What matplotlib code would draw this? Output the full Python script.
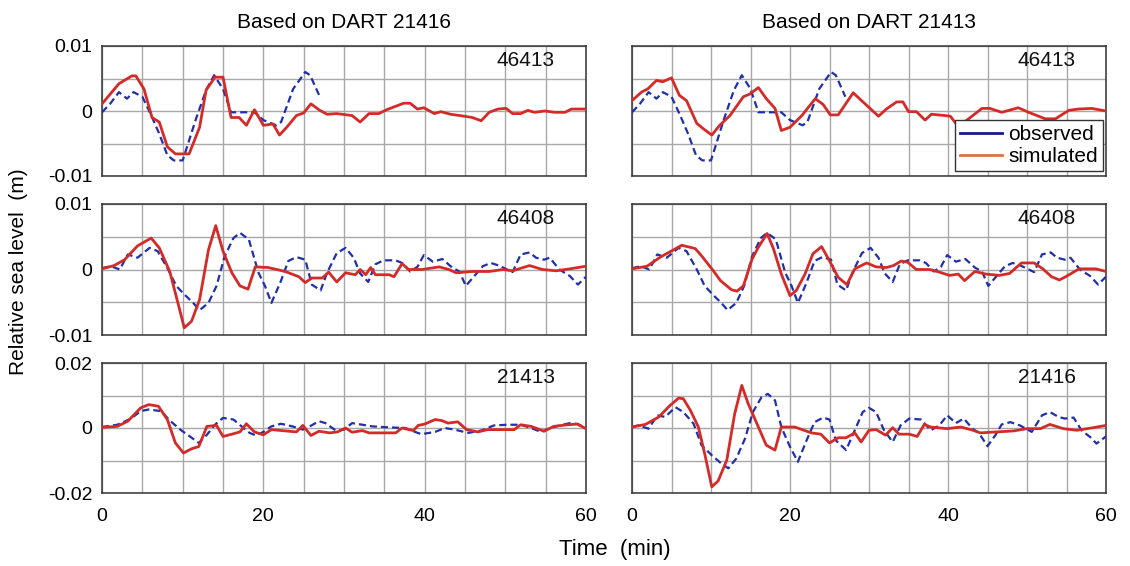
import matplotlib
matplotlib.use("Agg")
import matplotlib.pyplot as plt
from matplotlib.lines import Line2D

plt.rcParams['font.family'] = ['Liberation Sans', 'DejaVu Sans']

# ---------------------------------------------------------------- data (mm -> m below)
# Panel (0,0): station 46413, source from DART 21416
sim_46413_a_t = [0, 2.1, 3.7, 4.2, 5.2, 6.2, 7.1, 8.1, 9.1, 10.8, 12.1, 12.9, 14, 15, 16, 17, 17.9, 18.9,
                 20, 21.2, 22, 22.9, 24.1, 25, 25.9, 27, 27.9, 29.1, 31, 32, 33.1, 34.3, 35.3, 37.4, 38.2,
                 39.1, 39.9, 41.2, 42, 43.2, 44.9, 45.9, 47, 48, 49.1, 50.1, 50.9, 51.9, 52.8, 53.6, 54.9,
                 56.1, 57.4, 58.2, 60]
sim_46413_a_v = [1.1, 4.2, 5.4, 5.4, 3.4, -1.0, -1.7, -5.5, -6.6, -6.6, -2.5, 3.2, 5.2, 5.2, -1.0, -1.0, -2.2, 0.2,
                 -2.2, -2.0, -3.7, -2.5, -0.7, -0.3, 1.1, 0.1, -0.5, -0.4, -0.7, -1.7, -0.4, -0.4, 0.2, 1.2, 1.2,
                 0.3, 0.5, -0.4, -0.1, -0.5, -0.8, -1.0, -1.5, -0.2, 0.3, 0.4, -0.4, -0.4, 0.1, -0.2, 0.0,
                 -0.2, -0.2, 0.3, 0.3]
obs_46413_t = [0, 1, 2.1, 3.1, 3.9, 5, 6, 7.1, 8.1, 8.9, 10, 10.6, 11.6, 12.9, 13.9, 15, 16, 18.9, 20, 21.6,
               22.2, 23.7, 25.2, 25.8, 27]
obs_46413_v = [-0.2, 1.1, 2.9, 1.9, 2.9, 2.2, -0.4, -3.5, -6.8, -7.6, -7.6, -5.3, -1.4, 3.2, 5.5, 3.4, -0.2,
               -0.2, -1.4, -2.2, -1.7, 3.4, 6.0, 5.5, 2.2]

# Panel (0,1): station 46413, source from DART 21413
sim_46413_b_t = [0, 1.2, 2, 3.1, 3.9, 5, 6, 6.9, 8.2, 9, 10.1, 11.1, 12.4, 14.1, 14.9, 16, 17, 18.1, 18.9, 20,
                 21.5, 23.2, 24.2, 25.1, 26.1, 28, 29.5, 31.2, 32.2, 33.5, 34.3, 35, 36, 37.1, 37.9, 39.6,
                 40.3, 41.3, 42.4, 44.3, 45.3, 46.8, 48.9, 50.2, 52.3, 53.6, 55.3, 56.5, 58.2, 60]
sim_46413_b_v = [1.6, 2.9, 3.4, 4.7, 4.5, 5.1, 2.4, 1.6, -1.9, -2.7, -3.7, -2.2, -0.7, 2.2, 2.6, 3.6, 1.9, 0.4,
                 -3.0, -2.5, -0.7, 1.9, 1.0, -0.6, -0.6, 2.8, 1.1, -0.8, 0.3, 1.4, 1.4, -0.1, -0.1, -1.4,
                 -0.5, -0.7, -0.8, -2.4, -1.4, 0.4, 0.4, -0.2, 0.5, -0.2, -1.2, -1.2, 0.1, 0.3, 0.4, 0.0]

# Panel (1,0): station 46408, source from DART 21416
sim_46408_a_t = [0, 1.5, 2.8, 4.4, 6.1, 7.1, 8.4, 9.2, 10.2, 11.1, 12.1, 13.2, 14.1, 15, 16.1, 17.1, 18.1, 19,
                 20.6, 22.7, 24.4, 25.2, 26, 27.3, 28.1, 29.1, 30.2, 31.4, 32, 32.7, 33.3, 33.9, 35.6, 36.2,
                 37.2, 38, 39.7, 41.8, 43, 43.9, 45.9, 48, 49.7, 50.9, 53, 54.6, 56.3, 58, 60]
sim_46408_a_v = [0.1, 0.6, 1.5, 3.6, 4.8, 3.3, -0.3, -4.1, -8.9, -7.9, -4.6, 3.0, 6.7, 2.8, -0.5, -2.5, -3.0, 0.4,
                 0.3, -0.3, -1.1, -2.0, -1.3, -1.3, -0.4, -1.9, -0.5, -0.8, 0.0, -0.8, 0.3, -0.8, -0.8, -1.1,
                 0.9, 0.0, 0.0, 0.4, 0.0, -0.5, -0.3, -0.3, 0.0, -0.2, 0.6, 0.0, -0.2, 0.1, 0.5]
obs_46408_t = [0, 1.1, 2.2, 3.2, 4.4, 5.9, 6.9, 8.2, 9.2, 10.2, 11.3, 12.1, 13.2, 14.2, 15.2, 16.3, 17.1, 18.2,
               19.4, 20.2, 21, 22.1, 23.1, 24.1, 25.2, 26, 27.1, 27.9, 29.1, 30.2, 31.2, 32, 33, 33.9, 34.9,
               36.4, 37.2, 38.2, 39.1, 39.9, 41, 42.2, 43.4, 44.3, 45.1, 46.3, 47.2, 48.2, 49.2, 50.9, 51.9,
               53, 53.8, 54.8, 55.5, 56.7, 58, 59, 60]
obs_46408_v = [0.2, 0.5, 0.0, 2.3, 1.8, 3.3, 2.8, 0.0, -2.5, -3.8, -5.1, -6.2, -5.1, -2.5, 2.0, 4.8, 5.6, 4.6,
               -0.5, -2.5, -5.1, -2.0, 1.3, 1.9, 1.5, -2.3, -3.2, -0.5, 2.5, 3.3, 1.8, -0.6, -1.9, 0.8, 1.4,
               1.4, 1.0, -0.3, 0.4, 2.2, 1.2, 1.6, 0.3, -0.3, -2.5, -0.8, 0.5, 1.0, 0.6, -0.4, 2.3,
               2.6, 1.8, 1.5, 1.8, 0.0, -1.0, -2.3, -1.1]

# Panel (1,1): station 46408, source from DART 21413
sim_46408_b_t = [0, 1.9, 3.6, 5.1, 6.3, 8, 8.8, 10.3, 11.2, 12.6, 13.3, 14.1, 15.2, 16, 17.1, 17.9, 18.9, 20,
                 20.8, 21.9, 22.9, 24, 25.1, 26.1, 27.2, 28.2, 29.7, 30.9, 32.2, 33.1, 34.1, 34.9, 36, 37.7,
                 38.9, 40.2, 41.3, 42.1, 43.4, 44.8, 46.5, 47.8, 49.3, 50.9, 52, 53.1, 54.1, 54.9, 56.6,
                 58.7, 60]
sim_46408_b_v = [0.1, 0.5, 1.9, 2.9, 3.7, 3.2, 2.1, -0.2, -1.7, -3.1, -3.3, -2.5, 1.6, 3.4, 5.5, 3.2, -0.7, -4.0,
                 -3.2, -0.7, 2.4, 3.5, 1.1, -1.2, -2.3, 0.1, 1.0, 0.4, 0.3, 0.6, 1.3, 1.1, 0.0, 0.0,
                 -0.4, -0.9, -0.7, -1.7, -0.3, -0.7, -0.9, -0.6, 1.0, 1.0, 0.1, -1.1, -1.6, -1.1, 0.1,
                 0.1, -0.3]

# Panel (2,0): station 21413, source from DART 21416
sim_21413_t = [0, 1.9, 3.2, 4.8, 5.8, 7, 8.1, 9.1, 10.1, 11.1, 12, 13, 14.2, 15, 16.1, 17.1, 17.9, 18.9, 20, 21,
               23.2, 24.1, 24.9, 25.9, 26.9, 28.2, 29.2, 30.2, 31, 32.3, 33.1, 36.4, 37.2, 38.6, 39.2, 40,
               41.3, 42.1, 42.9, 44.1, 45.2, 46.6, 47.8, 51.1, 51.9, 53.2, 54.8, 56, 57.7, 58.9, 60]
sim_21413_v = [0.2, 0.5, 2.1, 6.2, 7.2, 6.7, 2.6, -4.6, -7.7, -6.4, -5.7, 0.5, 0.8, -2.6, -1.9, -1.2, 1.3, -1.2,
               -2.1, -0.5, -1.0, -1.2, 0.8, -2.3, -1.0, -1.5, -1.2, 0.0, -1.3, -0.8, -1.5, -1.5, 0.0, -0.8,
               0.8, 1.2, 2.6, 2.3, 1.5, 1.9, -0.5, -1.2, -0.5, -0.5, 1.0, 0.5, -1.0, 0.5, 1.0, 1.2, -0.2]
obs_21413_t = [0, 1.9, 3.6, 4.8, 5.8, 7.3, 8.5, 9.7, 10.9, 12, 13, 14, 15, 16.3, 17.3, 18.3, 19.1, 20, 21, 22.2,
               23.6, 24.9, 25.9, 26.9, 27.7, 29, 30, 31, 32.3, 33.5, 35.5, 37.6, 38.8, 39.6, 41.3, 42.5,
               43.7, 45.4, 47, 48.6, 50.3, 51.9, 53.2, 54.4, 55.6, 56.8, 58, 59, 60]
obs_21413_v = [0.3, 1.0, 2.9, 5.2, 5.7, 5.2, 2.1, -0.5, -2.6, -4.6, -2.1, 1.0, 3.1, 2.6, 0.5, -1.5, -2.3, -1.2,
               0.5, 1.3, 0.5, -0.5, 0.7, 2.1, 1.5, -0.8, -0.5, 1.5, 1.0, 0.5, 0.2, 0.0, -1.2, -1.9, -1.2,
               0.0, -0.5, -1.5, -0.8, 0.8, 1.0, 1.0, 0.0, -1.2, 0.0, 0.8, 1.5, 1.2, 0.0]

# Panel (2,1): station 21416, source from DART 21413
sim_21416_t = [0, 1.7, 3.4, 4.8, 5.9, 6.5, 7.4, 8.4, 9.2, 10.1, 10.9, 12, 13, 13.9, 14.7, 16, 17, 18.1, 18.9,
               20.6, 22.7, 23.9, 25, 26.1, 27.1, 28.2, 29, 30, 30.9, 32.1, 33, 33.8, 35.1, 36.1, 37, 37.8,
               39.9, 41.6, 42.9, 44.1, 46.2, 48.3, 50, 51.7, 52.9, 54.6, 56.3, 58.4, 60]
sim_21416_v = [0.3, 1.1, 3.4, 6.9, 9.2, 9.0, 5.4, 0.3, -7.9, -18.1, -16.3, -9.9, 4.4, 13.1, 7.5, 0.3, -5.3, -6.8,
               0.3, 0.3, -1.5, -1.9, -4.6, -3.0, -3.0, -1.5, -4.3, -0.7, -0.5, -2.2, 0.1, -1.9, -1.9, -2.6,
               1.1, 0.3, -0.2, 0.3, -0.5, -1.5, -1.2, -0.9, -0.2, -0.2, 1.1, -0.2, -0.7, 0.1, 0.8]
obs_21416_t = [0, 0.8, 2.1, 3.2, 4.2, 5.5, 6.5, 7.8, 8.8, 10.1, 11.3, 12.2, 13.2, 14.3, 15.3, 16.4, 17.2, 18.1,
               18.9, 20, 21, 22.1, 23.1, 24.2, 25, 25.8, 27.1, 28.2, 29.2, 30, 30.9, 31.9, 33, 34, 35.1,
               36.6, 37.8, 38.9, 39.9, 41, 42, 43.1, 43.9, 45, 46, 46.8, 47.9, 49.1, 50.6, 51.9, 52.9, 54,
               54.8, 55.9, 56.9, 58, 58.8, 60]
obs_21416_v = [0.3, 0.8, -0.2, 3.9, 3.4, 6.4, 4.9, 1.3, -5.3, -8.4, -10.9, -12.4, -9.4, -3.3, 4.9, 9.5, 10.5, 8.5,
               0.3, -5.8, -10.4, -3.8, 1.8, 3.2, 2.6, -3.8, -6.8, -0.7, 4.9, 6.2, 4.9, -0.7, -4.3, 0.8, 2.9,
               2.6, -0.7, 0.8, 3.9, 1.5, 2.9, -0.2, -1.5, -5.6, -2.2, 1.1, 1.8, 0.8, -1.2, 3.9, 4.9, 3.4,
               2.9, 3.2, -0.7, -2.8, -4.8, -2.6]

col_titles = ["Based on DART 21416", "Based on DART 21413"]
station_labels = [["46413", "46413"], ["46408", "46408"], ["21413", "21416"]]
row_limits = [0.01, 0.01, 0.02]
x_ticks = [0, 20, 40, 60]

panels = [
    [(sim_46413_a_t, sim_46413_a_v, obs_46413_t, obs_46413_v),
     (sim_46413_b_t, sim_46413_b_v, obs_46413_t, obs_46413_v)],
    [(sim_46408_a_t, sim_46408_a_v, obs_46408_t, obs_46408_v),
     (sim_46408_b_t, sim_46408_b_v, obs_46408_t, obs_46408_v)],
    [(sim_21413_t, sim_21413_v, obs_21413_t, obs_21413_v),
     (sim_21416_t, sim_21416_v, obs_21416_t, obs_21416_v)],
]

# ---------------------------------------------------------------- styling
W, H = 1130, 566
RED = "#d42a28"
BLUE = "#2030a8"
GRID = "#a8a8a8"
FS_TICK = 14
FS_TEXT = 15

fig = plt.figure(figsize=(W / 100, H / 100), dpi=100)

col_x = [(102, 586), (632, 1106)]
row_y = [(46, 176), (204, 335), (363, 493)]


def px_axes(x0, x1, y0, y1):
    return fig.add_axes([x0 / W, 1 - y1 / H, (x1 - x0) / W, (y1 - y0) / H])


axes = []
for r in range(3):
    row = []
    for c in range(2):
        ax = px_axes(col_x[c][0], col_x[c][1], row_y[r][0], row_y[r][1])
        st, sv, ot, ov = panels[r][c]
        lim = row_limits[r]
        ax.plot(ot, [v / 1000 for v in ov], color=BLUE, lw=1.6, ls=(0, (3.2, 1.8)), zorder=3)
        ax.plot(st, [v / 1000 for v in sv], color=RED, lw=2.0, zorder=4)
        ax.set_xlim(0, 60)
        ax.set_ylim(-lim, lim)
        ax.set_xticks(x_ticks if r == 2 else [])
        ax.set_xticks(range(0, 61, 5), minor=True)
        ax.set_yticks([-lim, 0, lim])
        ax.set_yticks([-lim / 2, lim / 2], minor=True)
        ax.grid(True, which="both", color=GRID, lw=1.0)
        ax.set_axisbelow(True)
        ax.tick_params(which="both", length=0, labelsize=FS_TICK)
        ax.tick_params(axis="x", pad=11)
        ax.tick_params(axis="y", pad=7)
        for s in ax.spines.values():
            s.set_color("#333333")
            s.set_linewidth(1.1)
        if r == 2:
            ax.set_xticklabels([str(v) for v in x_ticks])
        if c == 0:
            ax.set_yticklabels(["-%g" % lim, "0", "%g" % lim])
        else:
            ax.set_yticklabels([])
        ax.text(0.875, 0.89, station_labels[r][c], transform=ax.transAxes,
                ha="center", va="center", fontsize=FS_TEXT, color="#111111")
        row.append(ax)
    axes.append(row)

for c in range(2):
    x_center = (col_x[c][0] + col_x[c][1]) / 2
    fig.text(x_center / W, 1 - 22 / H, col_titles[c], ha="center", va="center", fontsize=FS_TEXT)

fig.text(19 / W, 1 - 272 / H, "Relative sea level  (m)", rotation=90,
         ha="center", va="center", fontsize=FS_TEXT)
fig.text(615 / W, 1 - 550 / H, "Time  (min)", ha="center", va="center", fontsize=FS_TEXT + 1)

# legend, drawn with proxy lines
handles = [Line2D([], [], color="#1a1a88", lw=2.0),
           Line2D([], [], color="#d8714a", lw=2.0)]
leg = axes[0][1].legend(handles, ["observed", "simulated"], loc="lower right",
                        bbox_to_anchor=(0.998, 0.02), fontsize=FS_TEXT, frameon=True, fancybox=False,
                        framealpha=1, edgecolor="#333333", borderpad=0.25, handlelength=2.0,
                        handletextpad=0.3, labelspacing=0.15, borderaxespad=0.1)
leg.get_frame().set_linewidth(1.0)

fig.savefig("out.png", dpi=100)
